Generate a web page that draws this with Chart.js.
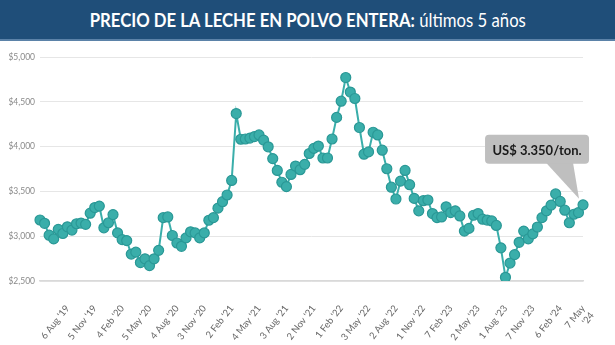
<!DOCTYPE html>
<html>
<head>
<meta charset="utf-8">
<script src="https://cdn.jsdelivr.net/npm/chart.js@4"></script>
<style>
  body { margin: 0; background: #fff; }
  #wrap { position: relative; width: 615px; height: 345px; overflow: hidden; background: #fff; }
  #head {
    position: absolute; left: 0; top: 0; width: 615px; height: 39px;
    background: #1f4e79; border-bottom: 2px solid #5b82a8;
    color: #fff; font-family: Lato, sans-serif; font-size: 19px;
    line-height: 39px; text-align: center; white-space: nowrap;
  }
  #head span { display: inline-block; transform: scaleX(0.88); }
  #head b { font-weight: 700; }
  #box { position: absolute; left: 0; top: 41px; width: 615px; height: 304px; }
</style>
</head>
<body>
<div id="wrap">
  <div id="head"><span><b>PRECIO DE LA LECHE EN POLVO ENTERA:</b> últimos 5 años</span></div>
  <div id="box"><canvas id="chart"></canvas></div>
</div>
<script>
// precio US$/ton, subastas quincenales
const prices = [
  3181, 3144, 3011, 2970, 3076, 3030, 3105, 3068, 3139, 3147,
  3132, 3257, 3320, 3336, 3094, 3150, 3241, 3037, 2962, 2951,
  2800, 2822, 2706, 2748, 2672, 2748, 2842, 3207, 3215, 3008,
  2924, 2887, 2981, 3049, 3037, 2981, 3037, 3178, 3207, 3313,
  3385, 3460, 3622, 4369, 4082, 4085, 4095, 4112, 4130, 4072,
  3998, 3866, 3734, 3602, 3553, 3689, 3783, 3742, 3802, 3923,
  3980, 4006, 3873, 3873, 4085, 4326, 4507, 4771, 4609, 4537,
  4213, 3915, 3941, 4160, 4130, 3960, 3753, 3547, 3415, 3615,
  3734, 3575, 3422, 3283, 3396, 3404, 3253, 3207, 3215, 3328,
  3264, 3283, 3226, 3057, 3087, 3234, 3253, 3190, 3180, 3170,
  3120, 2870, 2541, 2700, 2794, 2932, 3057, 2970, 3026, 3102,
  3207, 3283, 3347, 3472, 3388, 3290, 3150, 3245, 3264, 3350
];

const tickLabels = [
  "6 Aug '19", "5 Nov '19", "4 Feb '20", "5 May '20", "4 Aug '20",
  "3 Nov '20", "2 Feb '21", "4 May '21", "3 Aug '21", "2 Nov '21",
  "1 Feb '22", "3 May '22", "2 Aug '22", "1 Nov '22", "7 Feb '23",
  "2 May '23", "1 Aug '23", "7 Nov '23", "6 Feb '24", ["7 May", "'24"]
];
const tickIndex = [6, 12, 18, 24, 30, 36, 42, 48, 54, 60, 66, 72, 78, 84, 90, 96, 102, 108, 114, 119];

const yTicks = [2500, 3000, 3500, 4000, 4500, 5000];
const calloutText = "US$ 3.350/ton.";

const teal = "rgb(58,174,170)";
const tealDark = "rgb(42,152,150)";

const categories = prices.map((p, i) => {
  const k = tickIndex.indexOf(i);
  return k >= 0 ? tickLabels[k] : "";
});

const callout = {
  id: "callout",
  afterDatasetsDraw(chart) {
    const meta = chart.getDatasetMeta(0);
    const pt = meta.data[meta.data.length - 1];
    const ctx = chart.ctx;
    const px = pt.x, py = pt.y;
    const bx = px - 98, by = py - 70, bw = 104, bh = 29;
    ctx.save();
    ctx.fillStyle = "#bfbfbf";
    ctx.beginPath();
    ctx.moveTo(px - 37, by + bh - 1);
    ctx.lineTo(px - 10, by + bh - 1);
    ctx.lineTo(px - 4, py - 6);
    ctx.closePath();
    ctx.fill();
    ctx.beginPath();
    ctx.roundRect(bx, by, bw, bh, 4);
    ctx.fill();
    ctx.fillStyle = "#1a1a1a";
    ctx.font = "bold 13px Lato, sans-serif";
    ctx.textAlign = "center";
    ctx.textBaseline = "middle";
    ctx.fillText(calloutText, bx + bw / 2, by + bh / 2 + 1);
    ctx.restore();
  }
};

new Chart(document.getElementById("chart"), {
  type: "line",
  data: {
    labels: categories,
    datasets: [{
      data: prices,
      borderColor: teal,
      borderWidth: 2,
      backgroundColor: teal,
      pointBackgroundColor: teal,
      pointBorderColor: tealDark,
      pointBorderWidth: 1.2,
      pointRadius: 5,
      tension: 0
    }]
  },
  options: {
    responsive: true,
    maintainAspectRatio: false,
    animation: false,
    layout: { padding: { top: 16, right: 13, left: 0, bottom: 0 } },
    plugins: { legend: { display: false }, tooltip: { enabled: false } },
    scales: {
      x: {
        grid: { display: false },
        border: { display: true, color: "#d9d9d9", width: 1.5 },
        ticks: {
          autoSkip: false,
          maxRotation: 52,
          minRotation: 52,
          padding: 14,
          color: "#666",
          font: { family: "Lato", size: 9.5 }
        },
        afterFit(scale) { scale.height = 64; }
      },
      y: {
        min: 2500,
        max: 5000,
        afterBuildTicks(scale) { scale.ticks = yTicks.map(v => ({ value: v })); },
        grid: { color: "#e6e6e6", drawTicks: false },
        border: { display: false },
        ticks: {
          padding: 5,
          color: "#8a8a8a",
          font: { family: "Lato", size: 8.5 },
          callback: v => "$" + v.toLocaleString("en-US")
        },
        afterFit(scale) { scale.width = 40; }
      }
    }
  },
  plugins: [callout]
});
</script>
</body>
</html>
